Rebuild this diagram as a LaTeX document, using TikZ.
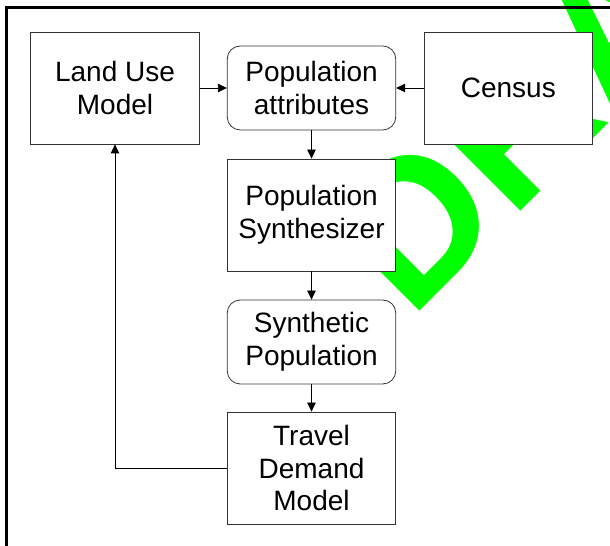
\documentclass[tikz,border=0pt]{standalone}
\usepackage{fontspec}
\setmainfont{Liberation Sans}
\newfontfamily\draftfont{Liberation Sans Bold}
\usepackage{tikz}
\usetikzlibrary{arrows.meta}
\definecolor{draftgreen}{RGB}{0,255,0}
\tikzset{
	box/.style={draw=black!80, line width=0.8bp, fill=white, minimum width=168.5bp, minimum height=112bp, align=center, inner sep=0pt, font=\fontsize{28bp}{32.6bp}\selectfont},
	roundbox/.style={box, rounded corners=13bp, minimum height=84bp},
	flow/.style={line width=0.8bp, -{Triangle[length=9bp,width=8.5bp]}}
}

\begin{document}
\begin{tikzpicture}[x=1bp, y=1bp]
		%%%%% START %%%%%
		\useasboundingbox (0, 0) rectangle (610, 546);
		\clip (0, 0) rectangle (610, 546);
		
		% watermark
		\node[anchor=base west, inner sep=0pt, rotate=45, text=draftgreen, font=\draftfont\fontsize{197bp}{197bp}\selectfont] (draft) at (410.8, 225.1) {DRAFT};
		
		% frame
		\draw[line width=2.7bp] (6.7, -20) -- (6.7, 538.7) -- (640, 538.7);
		
		\node[box] (land) at (115, 458) {Land Use\\Model};
		\node[roundbox] (attr) at (311.5, 458) {Population\\attributes};
		\node[box] (census) at (508.3, 458) {Census};
		\node[box] (synth) at (311.5, 331) {Population\\Synthesizer};
		\node[roundbox] (synpop) at (311.5, 204) {Synthetic\\Population};
		\node[box] (travel) at (311.5, 78) {Travel\\Demand\\Model};
		
		\draw[flow] (land) -- (attr);
		\draw[flow] (census) -- (attr);
		\draw[flow] (attr) -- (synth);
		\draw[flow] (synth) -- (synpop);
		\draw[flow] (synpop) -- (travel);
		\draw[flow] (travel.west) -| (land.south);
		
		%%%%% END %%%%%
\end{tikzpicture}
\end{document}
